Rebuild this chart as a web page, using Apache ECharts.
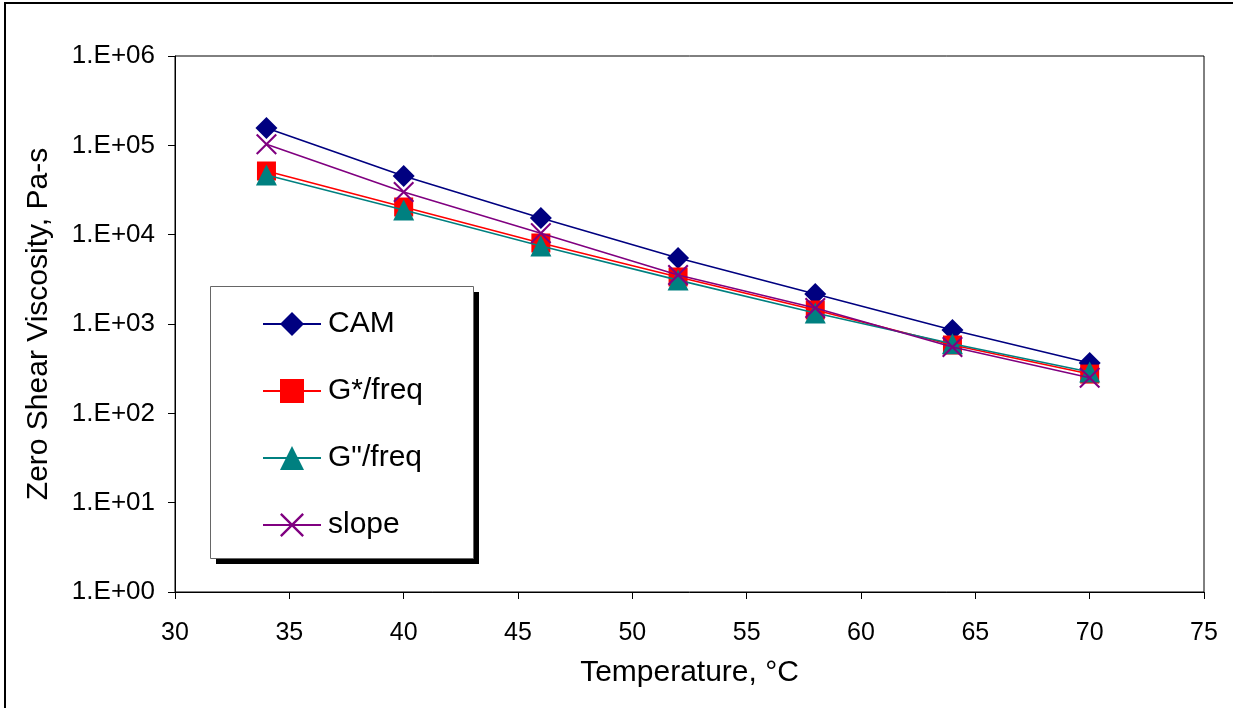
<!DOCTYPE html>
<html>
<head>
<meta charset="utf-8">
<script src="https://cdn.jsdelivr.net/npm/echarts@6/dist/echarts.min.js"></script>
<style>
html,body{margin:0;padding:0;background:#fff;}
#chart{width:1233px;height:708px;}
</style>
</head>
<body>
<div id="chart"></div>
<script>
// Temperatures (°C)
const temperatures = [34, 40, 46, 52, 58, 64, 70];
// Zero shear viscosity (Pa-s) per method
const camValues   = [156000, 45400, 15400, 5480, 2170, 857, 366];
const gStarValues = [51600, 20400, 8070, 3360, 1435, 582, 275];
const gDblValues  = [46500, 18900, 7470, 3100, 1330, 600, 290];
const slopeValues = [103000, 30000, 10400, 3530, 1510, 552, 250];
// Axis tick labels
const yTickLabels = ['1.E+00', '1.E+01', '1.E+02', '1.E+03', '1.E+04', '1.E+05', '1.E+06'];
const xTickLabels = ['30', '35', '40', '45', '50', '55', '60', '65', '70', '75'];
const seriesNames = ['CAM', 'G*/freq', 'G"/freq', 'slope'];

const FONT = '"Liberation Sans", Arial, sans-serif';
const crossPath = 'path://M0,1.4L1.4,0L10,8.6L18.6,0L20,1.4L11.4,10L20,18.6L18.6,20L10,11.4L1.4,20L0,18.6L8.6,10Z';

function pairs(vals) { return temperatures.map((t, i) => [t, vals[i]]); }

const chart = echarts.init(document.getElementById('chart'), null, { renderer: 'canvas' });
const colors = ['#000080', '#FF0000', '#008080', '#800080'];
const symbols = ['diamond', 'rect', 'triangle', crossPath];
const sizes = [22, 19, 21, 21];
const datasets = [camValues, gStarValues, gDblValues, slopeValues];

chart.setOption({
  backgroundColor: '#fff',
  animation: false,
  textStyle: { fontFamily: FONT },
  grid: {
    left: 175, right: 29, top: 56, bottom: 116,
    show: true, borderColor: '#000', borderWidth: 1, backgroundColor: '#fff'
  },
  graphic: [
    { type: 'rect', z: 0, shape: { x: 5, y: 3, width: 1260, height: 740 },
      style: { fill: 'none', stroke: '#000', lineWidth: 2 } },
    { type: 'rect', z: 50, shape: { x: 216, y: 292, width: 263, height: 272 },
      style: { fill: '#000' } },
    { type: 'rect', z: 51, shape: { x: 210.5, y: 286.5, width: 263, height: 272 },
      style: { fill: '#fff', stroke: '#666', lineWidth: 1 } }
  ],
  legend: {
    z: 60,
    left: 262, top: 309, padding: 0,
    orient: 'vertical',
    itemWidth: 58, itemHeight: 30, itemGap: 37,
    textStyle: { fontSize: 30, color: '#000', fontFamily: FONT, padding: [0, 0, 0, 2] },
    data: seriesNames
  },
  xAxis: {
    type: 'value', min: 30, max: 75, interval: 5,
    name: 'Temperature, °C', nameLocation: 'middle', nameGap: 66,
    nameTextStyle: { fontSize: 30, color: '#000', fontFamily: FONT },
    axisLine: { show: true, lineStyle: { color: '#000', width: 1 } },
    axisTick: { show: true, inside: false, length: 7, lineStyle: { color: '#000' } },
    axisLabel: { fontSize: 25, color: '#000', margin: 29, fontFamily: FONT,
      formatter: (v) => xTickLabels[Math.round((v - 30) / 5)] },
    splitLine: { show: false }
  },
  yAxis: {
    type: 'log', logBase: 10, min: 1, max: 1000000,
    name: 'Zero Shear Viscosity, Pa-s', nameLocation: 'middle', nameGap: 121,
    nameTextStyle: { fontSize: 30, color: '#000', fontFamily: FONT },
    axisLine: { show: true, lineStyle: { color: '#000', width: 1 } },
    axisTick: { show: true, inside: false, length: 7, lineStyle: { color: '#000' } },
    axisLabel: { fontSize: 26, color: '#000', margin: 20, fontFamily: FONT,
      formatter: (v) => yTickLabels[Math.round(Math.log10(v))] },
    splitLine: { show: false },
    minorTick: { show: false }
  },
  series: seriesNames.map((name, i) => ({
    name: name,
    type: 'line',
    data: pairs(datasets[i]),
    symbol: symbols[i],
    symbolSize: sizes[i],
    symbolKeepAspect: true,
    showAllSymbol: true,
    lineStyle: { color: colors[i], width: 1.6 },
    itemStyle: { color: colors[i], opacity: 1 },
    z: 10 + i
  }))
});
</script>
</body>
</html>
